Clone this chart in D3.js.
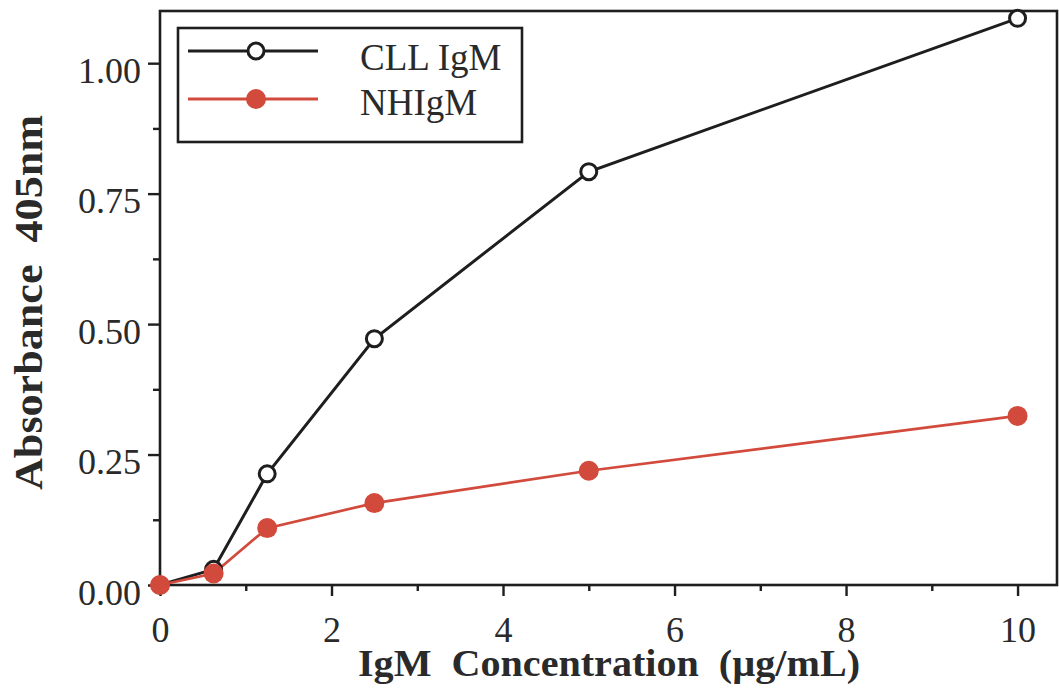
<!DOCTYPE html>
<html>
<head>
<meta charset="utf-8">
<script src="https://cdn.jsdelivr.net/npm/d3@7"></script>
<style>
  html, body { margin: 0; padding: 0; background: #ffffff; }
  svg { display: block; }
  text { font-family: "Liberation Serif", "Times New Roman", serif; fill: #2a2a2a; }
</style>
</head>
<body>
<svg id="chart" width="1059" height="693"></svg>
<script>
// IgM concentration (µg/mL) for each dilution
const concentrations = [0, 0.625, 1.25, 2.5, 5, 10];
// Absorbance at 405 nm
const cllIgM = [0.0, 0.03, 0.213, 0.472, 0.792, 1.086];
const nhIgM  = [0.0, 0.022, 0.109, 0.157, 0.219, 0.324];
const xTicks = [0, 2, 4, 6, 8, 10];
const xMinor = [1, 3, 5, 7, 9];
const yTicks = [0, 0.25, 0.5, 0.75, 1.0];
const yMinor = [0.125, 0.375, 0.625, 0.875];
const seriesNames = ["CLL IgM", "NHIgM"];

const ink = "#1e1e1e";
const red = "#d24a3c";

const svg = d3.select("#chart");
const plot = { left: 160, right: 1057, top: 11, bottom: 585 };

const x = d3.scaleLinear().domain([0, 10.46]).range([plot.left, plot.right]);
const y = d3.scaleLinear().domain([0, 1.1]).range([plot.bottom, plot.top]);

// Frame
svg.append("rect")
  .attr("x", plot.left).attr("y", plot.top)
  .attr("width", plot.right - plot.left).attr("height", plot.bottom - plot.top)
  .attr("fill", "none").attr("stroke", ink).attr("stroke-width", 2.6);

// Bottom axis
const xAxis = svg.append("g").attr("transform", `translate(0,${plot.bottom})`);
xAxis.call(d3.axisBottom(x).tickValues(xTicks).tickSize(11).tickSizeOuter(0).tickFormat(d3.format("d")));
xAxis.append("g").call(d3.axisBottom(x).tickValues(xMinor).tickSize(6).tickSizeOuter(0).tickFormat(""));
xAxis.selectAll(".domain").remove();
xAxis.selectAll("line").attr("stroke", ink).attr("stroke-width", 2.4);
xAxis.selectAll("text")
  .attr("font-size", 36).attr("fill", "#2a2a2a")
  .attr("y", 57).attr("dy", 0)
  .style("font-family", "'Liberation Serif', serif");

// Left axis
const yAxis = svg.append("g").attr("transform", `translate(${plot.left},0)`);
yAxis.call(d3.axisLeft(y).tickValues(yTicks).tickSize(12).tickSizeOuter(0).tickFormat(d3.format(".2f")));
yAxis.append("g").call(d3.axisLeft(y).tickValues(yMinor).tickSize(7).tickSizeOuter(0).tickFormat(""));
yAxis.selectAll(".domain").remove();
yAxis.selectAll("line").attr("stroke", ink).attr("stroke-width", 2.4);
yAxis.selectAll("text")
  .attr("font-size", 36).attr("fill", "#2a2a2a")
  .attr("x", -19).attr("dy", 19)
  .style("font-family", "'Liberation Serif', serif");

// Axis titles
svg.append("text")
  .attr("x", 358).attr("y", 676)
  .attr("font-size", 37).attr("font-weight", "bold")
  .attr("textLength", 502).attr("lengthAdjust", "spacingAndGlyphs")
  .style("white-space", "pre")
  .text("IgM  Concentration  (\u00B5g/mL)");

svg.append("text")
  .attr("transform", "translate(42,490) rotate(-90)")
  .attr("font-size", 40).attr("font-weight", "bold")
  .attr("textLength", 375).attr("lengthAdjust", "spacingAndGlyphs")
  .style("white-space", "pre")
  .text("Absorbance  405nm");

// Series
const line = d3.line().x(d => x(d[0])).y(d => y(d[1]));
const cllPts = concentrations.map((c, i) => [c, cllIgM[i]]);
const nhPts  = concentrations.map((c, i) => [c, nhIgM[i]]);

svg.append("path").datum(cllPts).attr("d", line)
  .attr("fill", "none").attr("stroke", ink).attr("stroke-width", 3);
svg.append("path").datum(nhPts).attr("d", line)
  .attr("fill", "none").attr("stroke", red).attr("stroke-width", 2.7);

svg.append("g").selectAll("circle").data(cllPts).join("circle")
  .attr("cx", d => x(d[0])).attr("cy", d => y(d[1])).attr("r", 8)
  .attr("fill", "#fff").attr("stroke", ink).attr("stroke-width", 3);
svg.append("g").selectAll("circle").data(nhPts).join("circle")
  .attr("cx", d => x(d[0])).attr("cy", d => y(d[1])).attr("r", 10)
  .attr("fill", red);

// Legend
const lg = svg.append("g");
lg.append("rect").attr("x", 178).attr("y", 28).attr("width", 344).attr("height", 114)
  .attr("fill", "#fff").attr("stroke", ink).attr("stroke-width", 2.6);
const rows = [
  { name: seriesNames[0], color: ink, open: true, ly: 51, ty: 70 },
  { name: seriesNames[1], color: red, open: false, ly: 99, ty: 115 }
];
rows.forEach(r => {
  lg.append("line").attr("x1", 188).attr("x2", 318).attr("y1", r.ly).attr("y2", r.ly)
    .attr("stroke", r.color).attr("stroke-width", 2.8);
  if (r.open) {
    lg.append("circle").attr("cx", 256).attr("cy", r.ly).attr("r", 8)
      .attr("fill", "#fff").attr("stroke", r.color).attr("stroke-width", 3);
  } else {
    lg.append("circle").attr("cx", 256).attr("cy", r.ly).attr("r", 10).attr("fill", r.color);
  }
  lg.append("text").attr("x", 360).attr("y", r.ty).attr("font-size", 37).text(r.name);
});
</script>
</body>
</html>
